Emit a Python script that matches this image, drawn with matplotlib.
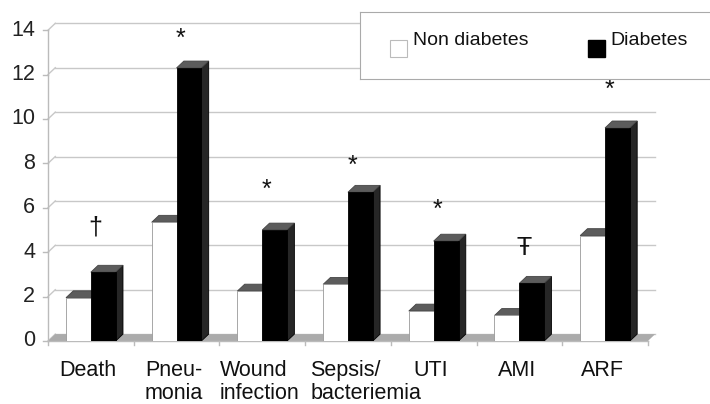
import numpy as np
import matplotlib.pyplot as plt
from matplotlib.patches import Polygon

plt.rcParams['font.family'] = ['Liberation Sans', 'DejaVu Sans']

# complication rates (%)
categories = ['Death', 'Pneu-\nmonia', 'Wound\ninfection', 'Sepsis/\nbacteriemia', 'UTI', 'AMI', 'ARF']
non_diabetes = [1.95, 5.35, 2.25, 2.55, 1.35, 1.15, 4.75]
diabetes = [3.1, 12.3, 5.0, 6.7, 4.5, 2.6, 9.6]
marks = ['\u2020', '*', '*', '*', '*', '\u0166', '*']
mark_y = [5.1, 13.6, 6.8, 7.9, 5.9, 4.2, 11.3]
yticks = [0, 2, 4, 6, 8, 10, 12, 14]

# fake 3d depth in data units
dx = 0.085
dy = 0.31
w = 0.29

fig = plt.figure(figsize=(7.1, 4.04), dpi=100)
ax = fig.add_axes([48/710, (404-341)/404, 614/710, 321/404])
ax.set_xlim(-0.5, -0.5 + 614/85.7)
ax.set_ylim(0, 321/22.2)
ax.axis('off')

n = len(categories)
x = np.arange(n)
xl, xr = -0.5, n - 0.5

# floor
ax.add_patch(Polygon([(xl, 0), (xr, 0), (xr+dx, dy), (xl+dx, dy)], closed=True,
                     facecolor='#ababab', edgecolor='none', zorder=1))
# back wall gridlines and ticks
for v in yticks:
    ax.plot([xl+dx, xr+dx], [v+dy, v+dy], color='#c8c8c8', lw=1, zorder=0.5, clip_on=False)
    ax.plot([xl, xl+dx], [v, v+dy], color='#c8c8c8', lw=1, zorder=0.5, clip_on=False)
    ax.plot([xl-0.06, xl], [v, v], color='#bbbbbb', lw=1, clip_on=False)
    ax.text(xl-0.15, v, str(v), ha='right', va='center', fontsize=15.5, color='#222222')
ax.plot([xl, xl], [0, yticks[-1]], color='#bbbbbb', lw=1, clip_on=False)
# front x axis
ax.plot([xl, xr], [0, 0], color='#bbbbbb', lw=1, clip_on=False, zorder=1.5)
for b in np.arange(n+1) - 0.5:
    ax.plot([b, b], [0, -0.2], color='#bbbbbb', lw=1, clip_on=False)


def bar3d(x0, v, front, side, edge):
    ax.add_patch(Polygon([(x0+w, 0), (x0+w+dx, dy), (x0+w+dx, v+dy), (x0+w, v)], closed=True,
                         facecolor=side, edgecolor=edge, lw=0.6, zorder=2))
    ax.add_patch(Polygon([(x0, v), (x0+w, v), (x0+w+dx, v+dy), (x0+dx, v+dy)], closed=True,
                         facecolor='#5c5c5c', edgecolor='#444444', lw=0.6, zorder=2))
    ax.bar(x0, v, width=w, align='edge', color=front, edgecolor=edge, lw=0.6, zorder=2)


renderer = fig.canvas.get_renderer()
px = 85.7  # pixels per category unit
for i in range(n):
    bar3d(x[i]-w, non_diabetes[i], 'white', '#dddddd', '#999999')
    bar3d(x[i], diabetes[i], 'black', '#262626', 'black')
    ax.text(x[i]+0.05, mark_y[i], marks[i], ha='center', va='center', fontsize=18, color='#111111')
    # category label: lines left aligned inside a block centred under the group,
    # the long sepsis label is pushed right so it clears "infection"
    shift = 0.21 if i == 3 else -0.03
    lines = categories[i].split('\n')
    widths = []
    for ln in lines:
        t = ax.text(0, 0, ln, fontsize=15.5)
        widths.append(t.get_window_extent(renderer).width)
        t.remove()
    left = x[i] + shift - max(widths) / 2 / px
    for k, ln in enumerate(lines):
        ax.text(left, -1.58 - 1.05*k, ln, ha='left', va='baseline', fontsize=15.5, color='#111111')

# legend box
leg_ax = fig.add_axes([360/710, 1-79/404, 360/710, 67/404])
leg_ax.set_xlim(0, 360)
leg_ax.set_ylim(67, 0)
leg_ax.set_xticks([])
leg_ax.set_yticks([])
for s in leg_ax.spines.values():
    s.set_color('#aaaaaa')
leg_ax.add_patch(plt.Rectangle((30, 28), 17, 17, facecolor='white', edgecolor='#bbbbbb', lw=0.8))
leg_ax.text(53, 29, 'Non diabetes', ha='left', va='center', fontsize=14, color='#111111')
leg_ax.add_patch(plt.Rectangle((228, 28), 17, 17, facecolor='black', edgecolor='black'))
leg_ax.text(250, 29, 'Diabetes', ha='left', va='center', fontsize=14, color='#111111')

plt.savefig('out.png', dpi=100)
